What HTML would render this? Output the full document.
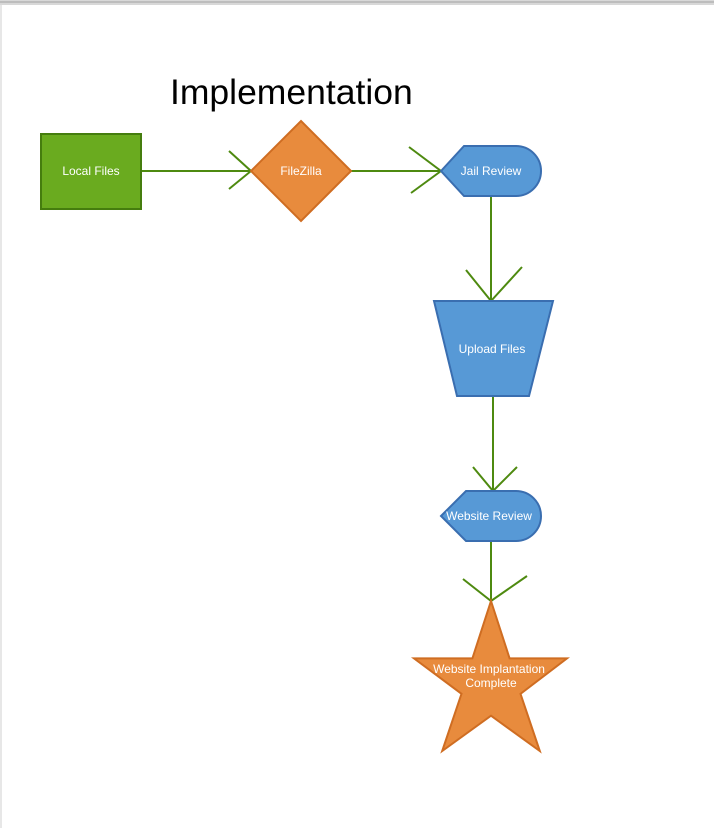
<!DOCTYPE html>
<html><head><meta charset="utf-8"><style>
html,body{margin:0;padding:0;background:#fff;width:714px;height:828px;overflow:hidden}
</style></head><body>
<svg width="714" height="828" xmlns="http://www.w3.org/2000/svg" font-family="Liberation Sans, sans-serif">
<rect x="0" y="0" width="714" height="5" fill="#d8d8d8"/>
<line x1="0" y1="2" x2="714" y2="2" stroke="#bdbdbd" stroke-width="2"/>
<line x1="1" y1="5" x2="1" y2="828" stroke="#cfcfcf" stroke-width="1"/>
<text x="170" y="104" font-size="35.5" fill="#000">Implementation</text>
<g stroke="#4e8a10" stroke-width="2" fill="none">
<line x1="141" y1="171" x2="251" y2="171"/><polyline points="229,151 251,171 229,189"/>
<line x1="351" y1="171" x2="441" y2="171"/><polyline points="409,147 441,171 411,193"/>
<line x1="491" y1="196" x2="491" y2="301"/><polyline points="466,270 491,301 522,267"/>
<line x1="493" y1="396" x2="493" y2="491"/><polyline points="473,467 493,491 517,467"/>
<line x1="491" y1="541" x2="491" y2="601"/><polyline points="463,579 491,601 527,576"/>
</g>
<rect x="41" y="134" width="100" height="75" fill="#6aab1f" stroke="#457d0e" stroke-width="2"/>
<polygon points="301,121 351,171 301,221 251,171" fill="#e88b3d" stroke="#cf6d22" stroke-width="2"/>
<path d="M441,171 L464,146 L516,146 A25,25 0 0 1 516,196 L464,196 Z" fill="#5799d6" stroke="#3a6eb0" stroke-width="2"/>
<polygon points="434,301 553,301 529,396 457,396" fill="#5799d6" stroke="#3a6eb0" stroke-width="2"/>
<path d="M441,516 L466,491 L516,491 A25,25 0 0 1 516,541 L466,541 Z" fill="#5799d6" stroke="#3a6eb0" stroke-width="2"/>
<polygon points="491,601 509.6,658.4 567,658.4 520.5,693.8 539.8,751 491,715.7 442.2,751 461.5,693.8 414,658.4 472.4,658.4" fill="#e88b3d" stroke="#cf6d22" stroke-width="2"/>
<g fill="#fff" font-size="12" text-anchor="middle">
<text x="91" y="175">Local Files</text>
<text x="301" y="175">FileZilla</text>
<text x="491" y="175">Jail Review</text>
<text x="492" y="353">Upload Files</text>
<text x="489" y="520">Website Review</text>
<text x="489" y="673">Website Implantation</text>
<text x="491" y="687">Complete</text>
</g>
</svg>
</body></html>
